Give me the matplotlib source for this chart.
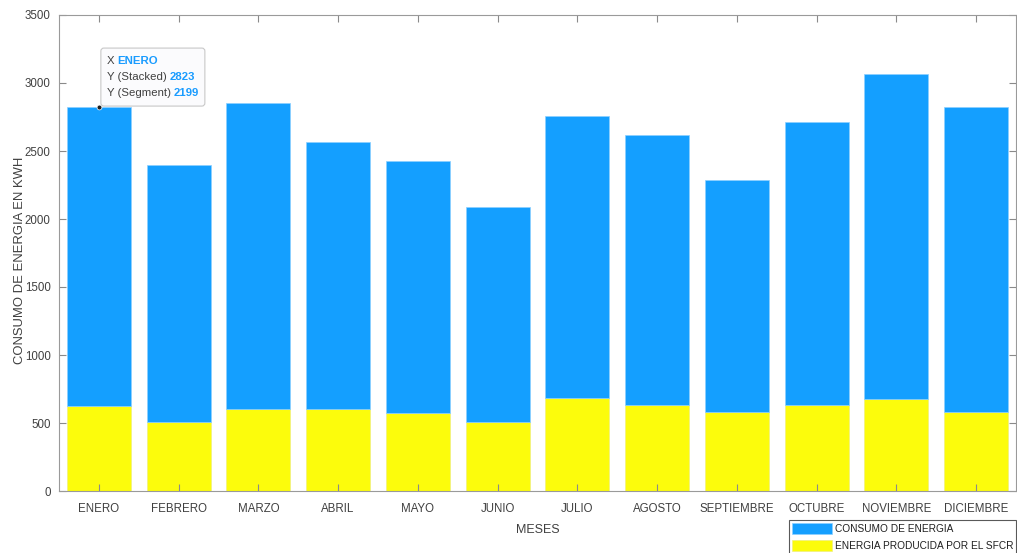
import numpy as np
import matplotlib.pyplot as plt
from matplotlib.patches import FancyBboxPatch

plt.rcParams['font.family'] = ['Liberation Sans', 'DejaVu Sans']

meses = ["ENERO", "FEBRERO", "MARZO", "ABRIL", "MAYO", "JUNIO", "JULIO",
         "AGOSTO", "SEPTIEMBRE", "OCTUBRE", "NOVIEMBRE", "DICIEMBRE"]
# energia producida por el SFCR (segmento inferior)
produccion = [624, 511, 606, 606, 577, 511, 687, 631, 584, 636, 679, 584]
# consumo total de energia (altura total de la barra)
consumo = [2823, 2400, 2855, 2564, 2427, 2090, 2754, 2618, 2290, 2713, 3065, 2820]

azul = "#149fff"
amarillo = "#fcfc0c"
gris = "#404040"

produccion = np.array(produccion)
consumo = np.array(consumo)
segmento = consumo - produccion
x = np.arange(len(meses))

fig = plt.figure(figsize=(10.17, 5.53), dpi=100)
ax = fig.add_axes([59 / 1017, 1 - 491 / 553, (1016 - 59) / 1017, (491 - 15) / 553])

b1 = ax.bar(x, produccion, width=0.8, color=amarillo, edgecolor="#f0f080", linewidth=0.5,
            label="ENERGIA PRODUCIDA POR EL SFCR")
b2 = ax.bar(x, segmento, width=0.8, bottom=produccion, color=azul, edgecolor="#8cd0ff",
            linewidth=0.5, label="CONSUMO DE ENERGIA")

ax.set_xlim(-0.5, 11.5)
ax.set_ylim(0, 3500)
ax.set_yticks(np.arange(0, 3501, 500))
ax.set_xticks(x)
ax.set_xticklabels(meses)
ax.tick_params(direction="in", length=5, width=0.8, color="#8a8a8a", labelcolor=gris,
               labelsize=8.3, top=True, right=True, pad=6)
ax.tick_params(axis="x", pad=9)
for s in ax.spines.values():
    s.set_color("#9a9a9a")
    s.set_linewidth(0.8)

ax.set_xlabel("MESES", fontsize=9, color=gris, labelpad=6)
ax.set_ylabel("CONSUMO DE ENERGIA EN KWH", fontsize=9.4, color=gris)
ax.yaxis.set_label_coords(-0.0345, 0.485)

leg = fig.legend(handles=[b2, b1], loc="upper left", bbox_to_anchor=(789 / 1017, 1 - 520 / 553),
                 fontsize=7.3, frameon=True, fancybox=False, edgecolor="#303030",
                 handlelength=3.9, handleheight=1.3, handletextpad=0.3, borderpad=0.3,
                 labelspacing=0.55, borderaxespad=0)
leg.get_frame().set_linewidth(0.8)
for t in leg.get_texts():
    t.set_color("#202020")

# data tip sobre ENERO
ax.plot([x[0]], [consumo[0]], "o", color="#202020", markersize=3.5, markeredgecolor="white",
        markeredgewidth=0.5, zorder=5)
px, py = ax.transData.transform((x[0], consumo[0]))
box = FancyBboxPatch((px + 2, py + 1), 104, 58, boxstyle="round,pad=0,rounding_size=3",
                     transform=None, facecolor="#fbfbfd", edgecolor="#c8c8c8", linewidth=0.8,
                     zorder=6)
fig.patches.append(box)
tip = [("X ", "ENERO"), ("Y (Stacked) ", str(consumo[0])), ("Y (Segment) ", str(segmento[0]))]
for i, (lab, val) in enumerate(tip):
    ty = py + 46 - i * 16
    t = fig.text(px + 8, ty, lab, transform=None, fontsize=8.2, color=gris, va="center", zorder=7)
    fig.canvas.draw()
    w = t.get_window_extent().width
    fig.text(px + 8 + w, ty, val, transform=None, fontsize=8.2, color="#1a9cff",
             fontweight="bold", va="center", zorder=7)

fig.savefig("out.png", dpi=100)
